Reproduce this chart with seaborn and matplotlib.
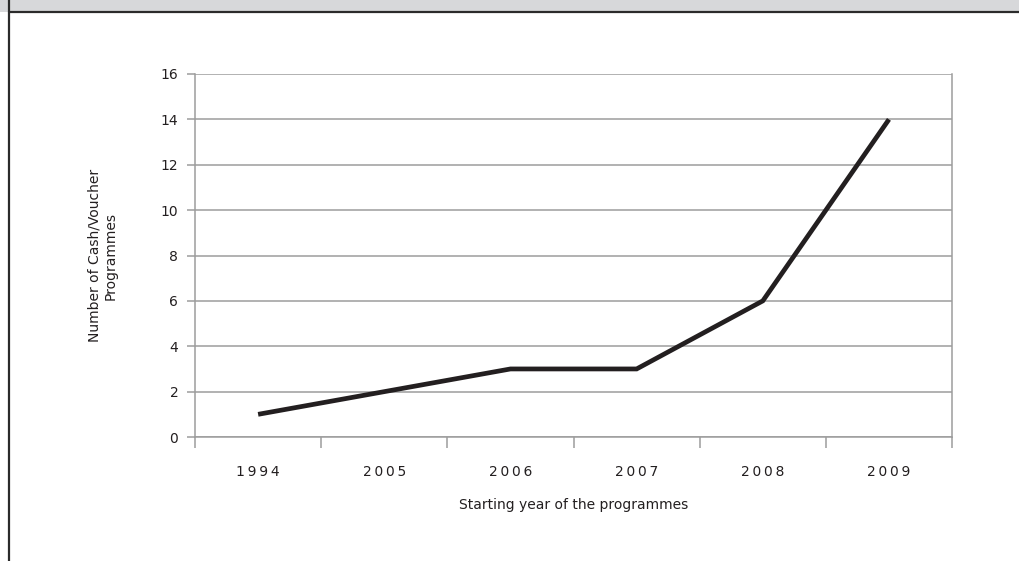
import matplotlib
matplotlib.use("Agg")
import matplotlib.pyplot as plt
import seaborn as sns
import pandas as pd
from matplotlib.lines import Line2D
from matplotlib.patches import Rectangle

years = ["1994", "2005", "2006", "2007", "2008", "2009"]
programmes = [1, 2, 3, 3, 6, 14]
y_ticks = [0, 2, 4, 6, 8, 10, 12, 14, 16]
x_label = "Starting year of the programmes"
y_label = "Number of Cash/Voucher\nProgrammes"

sns.set_theme(style="white")
plt.rcParams["font.family"] = ["DejaVu Sans"]

df = pd.DataFrame({"year": years, "count": programmes})

fig = plt.figure(figsize=(10.19, 5.61), dpi=100)
ax = fig.add_axes([0.1914, 0.2210, 0.7429, 0.6471])

grid_c = "#9c9c9c"
sns.lineplot(data=df, x="year", y="count", sort=False, ax=ax,
             color="#231f20", linewidth=3.4, solid_joinstyle="miter",
             solid_capstyle="butt", zorder=3)

ax.set_xlim(-0.5, len(years) - 0.5)
ax.set_ylim(0, 16)
ax.set_yticks(y_ticks)
ax.set_yticklabels([str(v) for v in y_ticks], fontsize=10, color="#231f20")
ax.set_xticks(range(len(years)))
ax.set_xticklabels(["\u2009".join(y) for y in years], fontsize=10, color="#231f20")
ax.set_xticks([i - 0.5 for i in range(len(years) + 1)], minor=True)
ax.tick_params(axis="x", which="major", bottom=True, length=0, pad=20)
ax.tick_params(axis="x", which="minor", bottom=True, length=8, width=1.1,
               color=grid_c, direction="out")
ax.tick_params(axis="y", which="major", left=True, length=6, width=1.1,
               color=grid_c, direction="out", pad=6)
ax.yaxis.grid(True, color=grid_c, linewidth=1.1)
ax.xaxis.grid(False)
for s in ["left", "right", "bottom", "top"]:
    ax.spines[s].set_color(grid_c)
    ax.spines[s].set_linewidth(1.1)
ax.spines["top"].set_visible(False)

ax.set_xlabel(x_label, fontsize=10, color="#231f20", labelpad=14)
ax.set_ylabel(y_label, fontsize=10, color="#231f20")
ax.yaxis.set_label_coords(-0.102, 0.5)

# header band and frame
fig.patches.append(Rectangle((0, 1 - 12 / 561), 1, 12 / 561, transform=fig.transFigure,
                             facecolor="#d7d8da", edgecolor="none", zorder=0))
fig.lines.append(Line2D([9 / 1019, 1], [1 - 12 / 561, 1 - 12 / 561], transform=fig.transFigure,
                        color="#2b2b2b", linewidth=1.6))
fig.lines.append(Line2D([9 / 1019, 9 / 1019], [0, 1], transform=fig.transFigure,
                        color="#2b2b2b", linewidth=1.6))

fig.savefig("out.png", dpi=100)
